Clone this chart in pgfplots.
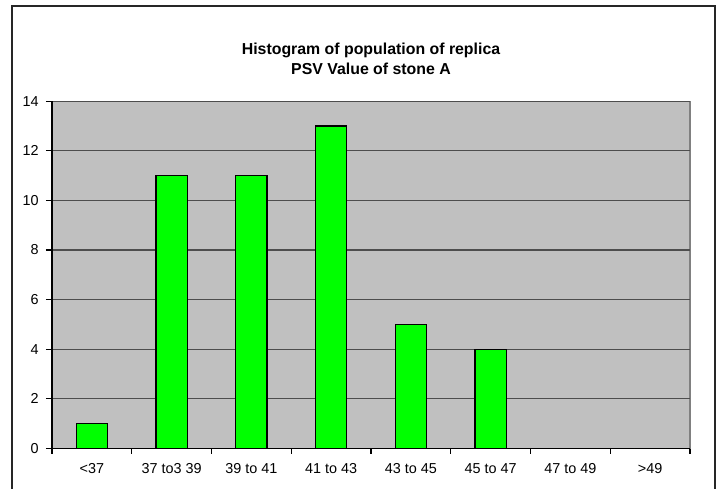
\documentclass[border=0pt]{standalone}
\usepackage{pgfplots}
\pgfplotsset{compat=1.18}
\usepackage{fontspec}
\setmainfont{Liberation Sans}
\definecolor{plotbg}{HTML}{C0C0C0}
\definecolor{gridc}{HTML}{4D4D4D}
\definecolor{barc}{HTML}{00FF00}
\begin{document}
\begin{tikzpicture}
  % page = 723 x 488 px, 1px = 0.75pt
  \path[use as bounding box] (0,0) rectangle (542.25pt,366pt);
  \draw[line width=1.1pt, black!85] (9pt,-5pt) -- (9pt,361.5pt) -- (536.25pt,361.5pt) -- (536.25pt,-5pt);

  \node[align=center, font=\fontsize{11.9}{15}\selectfont\bfseries] at (278.25pt,321.5pt)
    {Histogram of population of replica\\PSV Value of stone A};

  \begin{axis}[
    at={(39pt,29.6pt)}, anchor=south west,
    scale only axis,
    width=478.5pt, height=260.6pt,
    axis lines=left,
    axis line style={-, black, line width=0.8pt},
    axis background/.style={fill=plotbg, draw=gray, line width=0.8pt},
    ybar, bar width=0.39,
    xmin=-0.5, xmax=7.5,
    ymin=0, ymax=14,
    xtick={0,...,7},
    xticklabels={<37, 37 to3 39, 39 to 41, 41 to 43, 43 to 45, 45 to 47, 47 to 49, >49},
    minor xtick={-0.5,0.5,...,7.5},
    ytick={0,2,...,14},
    tick align=outside,
    major tick length=4.5pt,
    minor tick length=4pt,
    x tick style={draw=none},
    minor x tick style={draw=black, line width=0.8pt},
    y tick style={black, line width=0.8pt},
    ymajorgrids,
    major grid style={gridc, line width=0.8pt},
    ticklabel style={font=\fontsize{10.8}{13}\selectfont},
    /pgf/number format/assume math mode=true,
    xticklabel style={yshift=-3.5pt},
    yticklabel style={xshift=-2pt},
    enlargelimits=false,
  ]
  \addplot[fill=barc, draw=black, line width=1pt] coordinates {
    (0,1) (1,11) (2,11) (3,13) (4,5) (5,4) (6,0) (7,0)
  };
  \end{axis}
\end{tikzpicture}
\end{document}
